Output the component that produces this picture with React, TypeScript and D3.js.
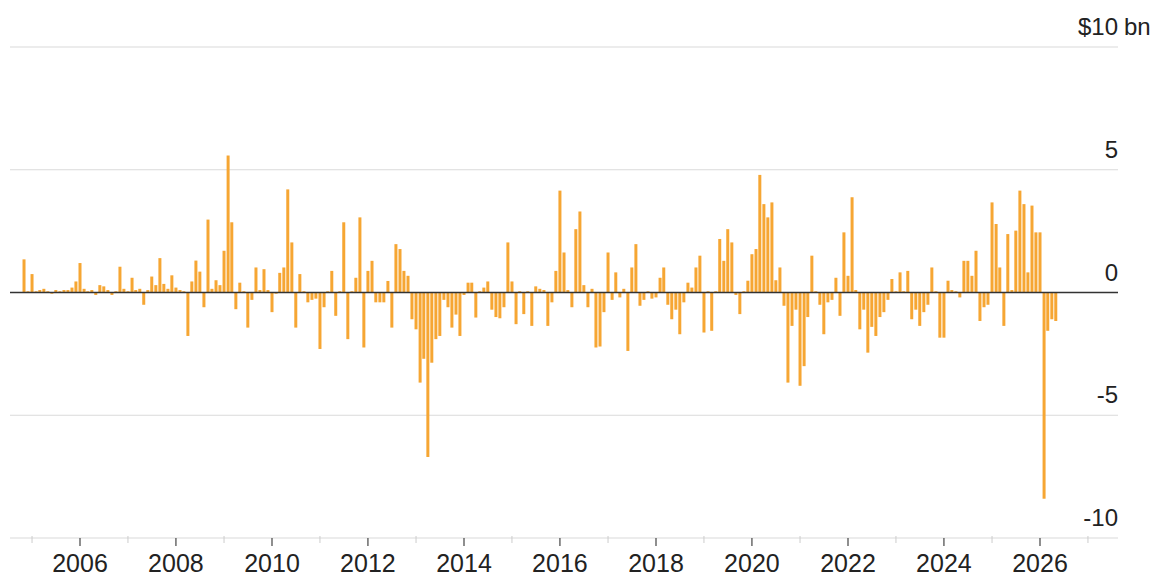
import React from "react";
import * as d3 from "d3";

// Monthly net flows, $ bn (Nov 2004 – May 2026)
const flows2004 = [1.35, 0.05];
const flows2005 = [0.75, 0.05, 0.1, 0.15, 0.05, -0.05, 0.1, 0.05, 0.1, 0.1, 0.2, 0.45];
const flows2006 = [1.2, 0.15, 0.05, 0.1, -0.1, 0.3, 0.25, 0.1, -0.1, 0.05, 1.05, 0.15];
const flows2007 = [0.05, 0.6, 0.1, 0.15, -0.5, 0.1, 0.65, 0.3, 1.4, 0.35, 0.15, 0.7];
const flows2008 = [0.2, 0.1, 0.05, -1.77, 0.45, 1.3, 0.85, -0.6, 2.97, 0.15, 0.5, 0.3];
const flows2009 = [1.7, 5.58, 2.86, -0.68, 0.4, 0.05, -1.43, -0.3, 1.02, 0.1, 0.95, 0.1];
const flows2010 = [-0.8, -0.05, 0.8, 1.02, 4.2, 2.04, -1.43, 0.75, 0.05, -0.4, -0.3, -0.25];
const flows2011 = [-2.3, -0.6, 0.05, 0.88, -0.95, 0.05, 2.86, -1.9, 0.05, 0.6, 3.06, -2.24];
const flows2012 = [0.88, 1.29, -0.4, -0.4, -0.4, 0.47, -1.43, 1.97, 1.77, 0.88, 0.68, -1.09];
const flows2013 = [-1.5, -3.67, -2.7, -6.7, -2.86, -1.9, -1.77, -0.3, -0.6, -1.43, -0.9, -1.77];
const flows2014 = [-0.1, 0.4, 0.4, -1.02, 0.05, 0.2, 0.45, -0.7, -1.0, -1.05, -0.6, 2.04];
const flows2015 = [0.45, -1.29, 0.05, -0.88, 0.05, -1.36, 0.25, 0.15, 0.1, -1.36, -0.4, 0.88];
const flows2016 = [4.15, 1.63, 0.1, -0.6, 2.58, 3.3, 0.3, -0.6, 0.15, -2.24, -2.2, -0.8];
const flows2017 = [1.63, -0.3, 0.82, -0.2, 0.15, -2.38, 1.02, 1.97, -0.54, -0.3, 0.05, -0.25];
const flows2018 = [-0.2, 0.6, 1.02, -0.5, -1.09, -0.7, -1.7, -0.4, 0.4, 0.2, 1.02, 1.5];
const flows2019 = [-1.63, 0.05, -1.56, 0.05, 2.18, 1.29, 2.58, 2.04, -0.1, -0.88, 0.05, 0.48];
const flows2020 = [1.56, 1.77, 4.79, 3.6, 3.06, 3.67, 0.5, 1.02, -0.54, -3.67, -1.36, -0.7];
const flows2021 = [-3.8, -3.0, -1.0, 1.5, 0.05, -0.5, -1.7, -0.4, -0.3, 0.6, -0.95, 2.45];
const flows2022 = [0.68, 3.88, 0.1, -1.5, -0.7, -2.45, -1.4, -1.77, -1.0, -0.8, -0.3, 0.55];
const flows2023 = [0.05, 0.82, 0.05, 0.88, -1.09, -0.7, -1.36, -0.8, -0.5, 1.02, 0.05, -1.84];
const flows2024 = [-1.84, 0.48, 0.1, 0.05, -0.2, 1.29, 1.29, 0.68, 1.7, -1.16, -0.6, -0.5];
const flows2025 = [3.67, 2.79, 1.02, -1.36, 2.38, 0.1, 2.52, 4.15, 3.6, 0.82, 3.54, 2.45];
const flows2026 = [2.45, -8.4, -1.56, -1.09, -1.16];

const yTicks = [-10, -5, 0, 5, 10];
const yTickLabels = ["-10", "-5", "0", "5", "$10"];
const yUnit = "bn";
const majorYears = [2006, 2008, 2010, 2012, 2014, 2016, 2018, 2020, 2022, 2024, 2026];
const minorYears = [2005, 2007, 2009, 2011, 2013, 2015, 2017, 2019, 2021, 2023, 2025, 2027];

const allFlows = [
  ...flows2004, ...flows2005, ...flows2006, ...flows2007, ...flows2008, ...flows2009,
  ...flows2010, ...flows2011, ...flows2012, ...flows2013, ...flows2014, ...flows2015,
  ...flows2016, ...flows2017, ...flows2018, ...flows2019, ...flows2020, ...flows2021,
  ...flows2022, ...flows2023, ...flows2024, ...flows2025, ...flows2026,
];
const data = allFlows.map((v, i) => ({ date: new Date(2004, 10 + i, 1), value: v }));

const W = 1155;
const H = 577;
const FONT = "'Liberation Sans', Arial, Helvetica, sans-serif";
const BAR = "#F6A633";

export default function App() {
  const x = d3.scaleTime().domain([new Date(2006, 0, 1), new Date(2026, 0, 1)]).range([80, 1040]);
  const y = d3.scaleLinear().domain([-10, 10]).range([538, 47]);
  const gridX0 = 10;
  const gridX1 = 1118;
  const bw = 3;

  return (
    <svg width={W} height={H} style={{ position: "absolute", left: 0, top: 0, background: "#fff" }}>
      {yTicks.map((t) => (
        <line key={"g" + t} x1={gridX0} x2={gridX1} y1={y(t)} y2={y(t)}
          stroke={t === 0 ? "none" : "#dadada"} strokeWidth={1.2} />
      ))}
      {data.map((d, i) => {
        const y0 = y(0);
        const yv = y(d.value);
        return (
          <rect key={i} x={x(d.date) - bw / 2} width={bw}
            y={Math.min(y0, yv)} height={Math.max(0.6, Math.abs(yv - y0))} fill={BAR} />
        );
      })}
      <line x1={gridX0} x2={gridX1} y1={y(0)} y2={y(0)} stroke="#333" strokeWidth={1.6} />
      {yTicks.map((t, i) => (
        <text key={"yl" + t} x={gridX1} y={y(t) - 12} textAnchor="end" fontFamily={FONT}
          fontSize={24} fill="#222">
          {yTickLabels[i]}
        </text>
      ))}
      <text x={gridX1 + 6} y={y(10) - 12} fontFamily={FONT} fontSize={24} fill="#222">{yUnit}</text>
      {minorYears.map((yr) => {
        const xx = x(new Date(yr, 0, 1));
        return xx < gridX1 ? (
          <line key={"mi" + yr} x1={xx} x2={xx} y1={y(-10) - 2} y2={y(-10) + 5} stroke="#ccc" strokeWidth={1} />
        ) : null;
      })}
      {majorYears.map((yr) => {
        const xx = x(new Date(yr, 0, 1));
        return (
          <g key={"ma" + yr}>
            <line x1={xx} x2={xx} y1={y(-10)} y2={y(-10) + 8} stroke="#444" strokeWidth={1.2} />
            <text x={xx} y={572} textAnchor="middle" fontFamily={FONT} fontSize={25} fill="#222">
              {yr}
            </text>
          </g>
        );
      })}
    </svg>
  );
}
